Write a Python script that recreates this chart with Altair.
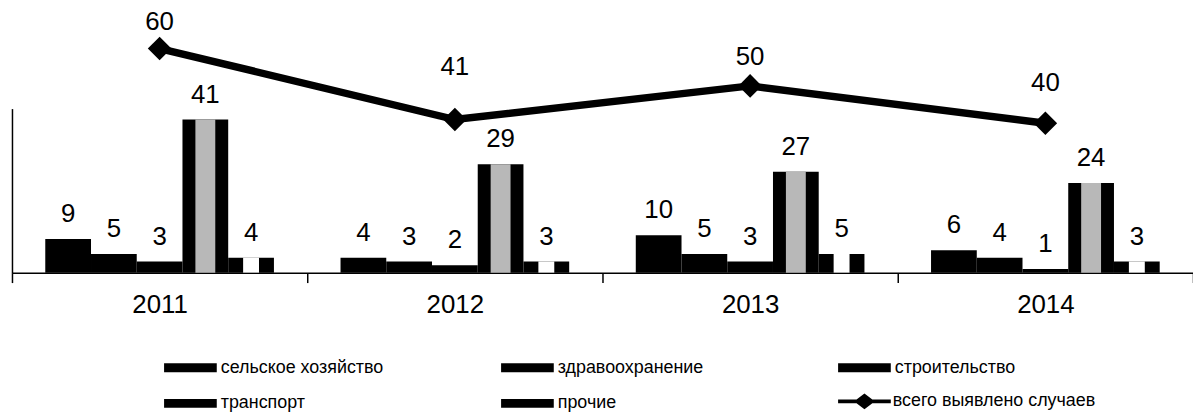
import altair as alt
import pandas as pd

# ---- data ----
years = ["2011", "2012", "2013", "2014"]
categories = ["сельское хозяйство", "здравоохранение", "строительство", "транспорт", "прочие"]
agriculture = [9, 4, 10, 6]
healthcare = [5, 3, 5, 4]
construction = [3, 2, 3, 1]
transport = [41, 29, 27, 24]
other = [4, 3, 5, 3]
total_name = "всего выявлено случаев"
total = [60, 41, 50, 40]

series = [agriculture, healthcare, construction, transport, other]
rows = []
for cat, vals in zip(categories, series):
    for yr, v in zip(years, vals):
        rows.append({"year": yr, "category": cat, "value": v})
bars_df = pd.DataFrame(rows)
# the line is anchored to the middle slot of each group (= the group centre)
line_df = pd.DataFrame({"year": years, "value": total,
                        "series": [total_name] * len(years),
                        "category": [categories[2]] * len(years)})

FONT = "Liberation Sans"
RECT_PATH = "M-1,-0.17H1V0.17H-1Z"
LINE_PATH = "M-1,-0.07H-0.3L0,-0.3L0.3,-0.07H1V0.07H0.3L0,0.3L-0.3,0.07H-1Z"

x_enc = alt.X(
    "year:N", sort=years,
    scale=alt.Scale(domain=years, paddingInner=0, paddingOuter=0),
    axis=alt.Axis(title=None, labelAngle=0, labelFont=FONT, labelFontSize=26,
                  labelColor="black", domainColor="black", domainWidth=1.5,
                  tickColor="black", tickWidth=1.5, tickSize=10, tickBand="extent",
                  labelPadding=9, grid=False),
)
xoff = alt.XOffset("category:N", sort=categories,
                   scale=alt.Scale(domain=categories, paddingInner=0, paddingOuter=0.728))
y_enc = alt.Y("value:Q", scale=alt.Scale(domain=[0, 67.34], nice=False, zero=True),
              axis=alt.Axis(title=None, labels=False, ticks=False, grid=False,
                            domainColor="black", domainWidth=1.5,
                            domainDash=[165, 400]))

bars = alt.Chart(bars_df).mark_bar().encode(
    x=x_enc, xOffset=xoff, y=y_enc,
    color=alt.Color(
        "category:N", sort=categories,
        scale=alt.Scale(domain=categories, range=["#000000"] * 5),
        legend=alt.Legend(
            title=None, orient="none", legendX=153, legendY=322, direction="horizontal",
            columns=3, symbolType=RECT_PATH, symbolSize=2809, symbolStrokeWidth=0,
            labelFont=FONT, labelFontSize=18, labelColor="black", labelOffset=4,
            labelLimit=0, columnPadding=118, rowPadding=-26, gridAlign="all", padding=0,
        ),
    ),
)

stripe_transport = alt.Chart(bars_df).transform_filter(
    alt.datum.category == "транспорт"
).mark_bar(width=20, color="#b8b8b8").encode(x=x_enc, xOffset=xoff, y=y_enc)

stripe_other = alt.Chart(bars_df).transform_filter(
    alt.datum.category == "прочие"
).mark_bar(width=16, color="#ffffff").encode(x=x_enc, xOffset=xoff, y=y_enc)

bar_labels = alt.Chart(bars_df).mark_text(
    font=FONT, fontSize=26, color="black", baseline="middle", dy=-25
).encode(x=x_enc, xOffset=xoff, y=y_enc, text="value:Q")

line = alt.Chart(line_df).mark_line(color="black", strokeWidth=7.5).encode(
    x=x_enc, xOffset=xoff, y=y_enc,
    stroke=alt.Stroke(
        "series:N",
        scale=alt.Scale(domain=[total_name], range=["#000000"]),
        legend=alt.Legend(
            title=None, orient="none", legendX=831, legendY=356,
            symbolType=LINE_PATH, symbolSize=2809, symbolFillColor="black",
            symbolStrokeWidth=0, labelFont=FONT, labelFontSize=18, labelColor="black",
            labelOffset=2, labelLimit=0, padding=0,
        ),
    ),
)

points = alt.Chart(line_df).mark_point(
    shape="diamond", filled=True, size=560, color="black", opacity=1
).encode(x=x_enc, xOffset=xoff, y=y_enc)

label_dy = {"2011": -27, "2012": -53, "2013": -29, "2014": -40}
line_labels = [
    alt.Chart(line_df).transform_filter(alt.datum.year == yr).mark_text(
        font=FONT, fontSize=26, color="black", baseline="middle", dy=dy
    ).encode(x=x_enc, xOffset=xoff, y=y_enc, text="value:Q")
    for yr, dy in label_dy.items()
]

chart = alt.layer(
    bars, stripe_transport, stripe_other, bar_labels, line, points, *line_labels
).properties(
    width=1188, height=253,
    autosize=alt.AutoSizeParams(type="none"),
    padding={"left": 4, "top": 12, "right": 0, "bottom": 141},
    background="white",
).configure_view(stroke=None)

chart.save("out.html", embed_options={"renderer": "svg", "actions": False})
